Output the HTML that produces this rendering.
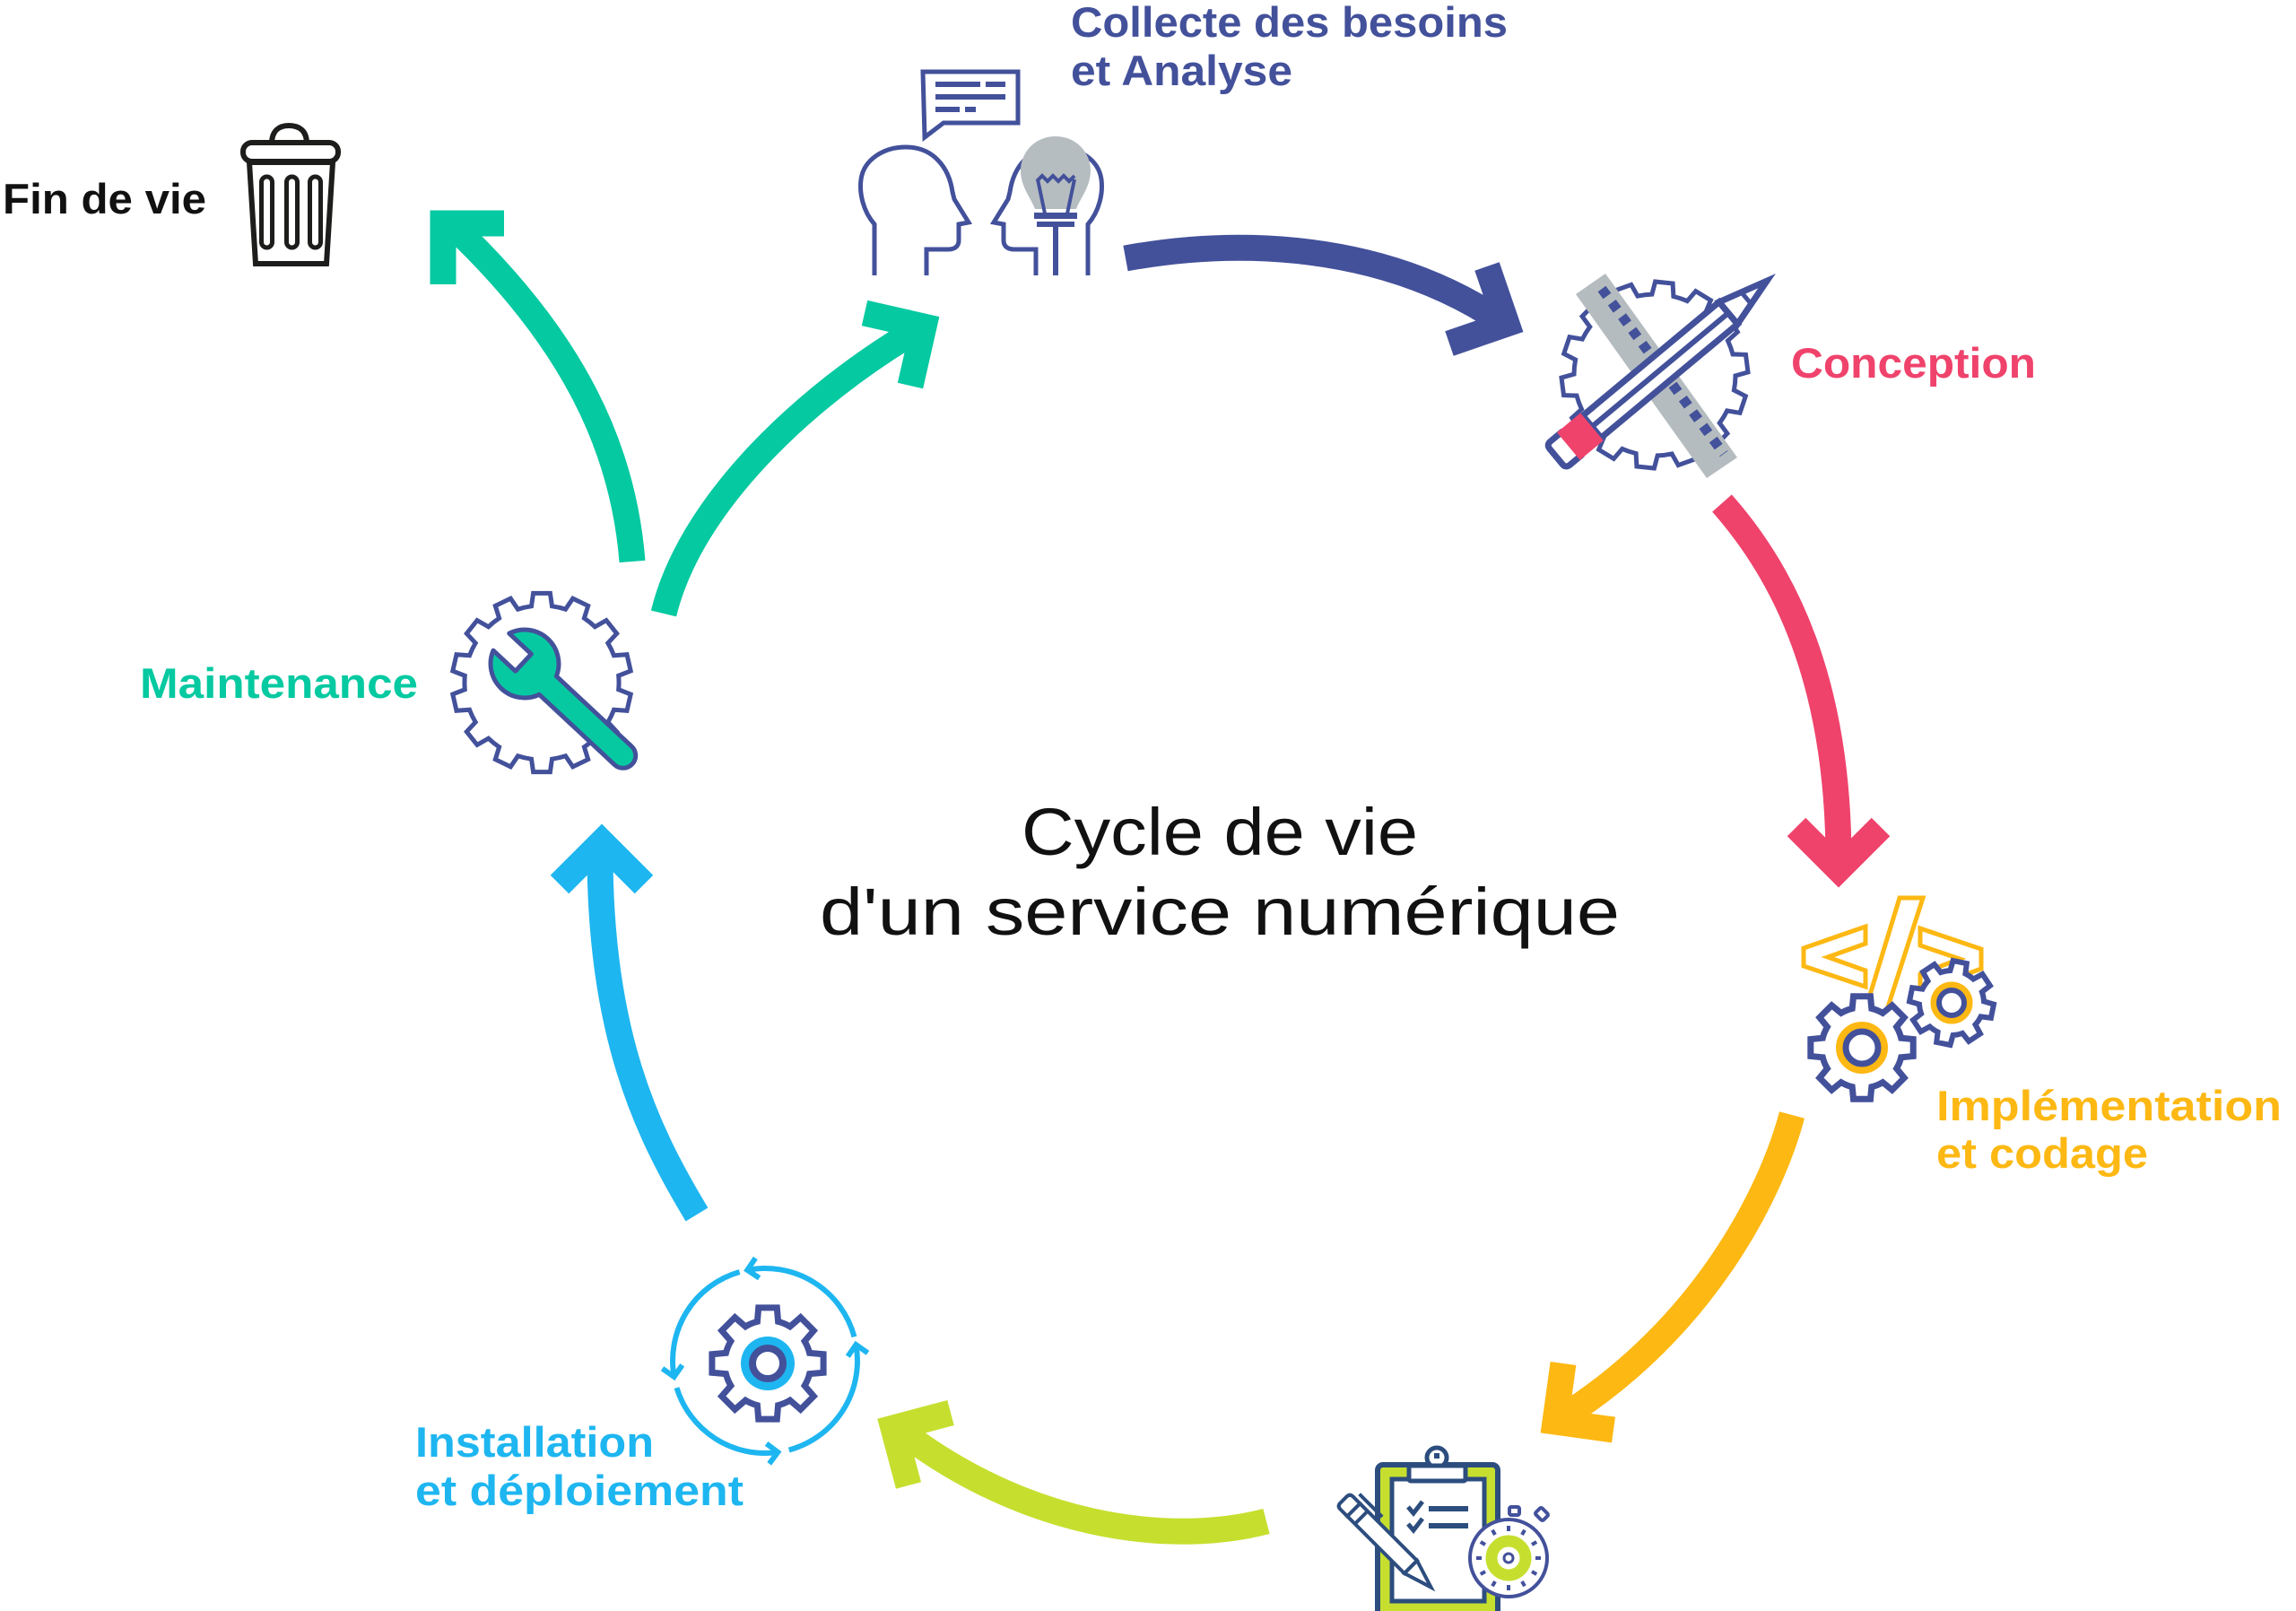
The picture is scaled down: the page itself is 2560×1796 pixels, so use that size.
<!DOCTYPE html>
<html><head><meta charset="utf-8">
<style>
html,body{margin:0;padding:0;background:#fff;}
svg{display:block;}
text{font-family:"Liberation Sans",Arial,sans-serif;}
.b{font-weight:bold;font-size:47px;}
</style></head>
<body>
<svg id="s" width="2560" height="1796" viewBox="0 0 2560 1796" xmlns="http://www.w3.org/2000/svg">
<rect width="2560" height="1796" fill="#fff"/>

<!-- ============ ARROWS ============ -->
<g fill="none" stroke-linejoin="miter" stroke-miterlimit="10" stroke-width="29">
  <path d="M705,626 C695,500 640,380 505,252" stroke="#05c9a1"/>
  <polyline points="562,249 494,249 494,317" stroke="#05c9a1"/>
  <path d="M740,684 C770,560 900,440 1022,368" stroke="#05c9a1"/>
  <polyline points="964,349 1030,364 1015,430" stroke="#05c9a1"/>
  <path d="M1255,288 C1380,265 1540,270 1672,357" stroke="#43519b"/>
  <polyline points="1658,297 1680,361 1616,383" stroke="#43519b"/>
  <path d="M1920,561 C1990,640 2050,760 2050,960" stroke="#ef436c"/>
  <polyline points="2003,922 2050,969 2097,922" stroke="#ef436c"/>
  <path d="M1998,1243 C1975,1330 1900,1480 1742,1580" stroke="#fdb813"/>
  <polyline points="1743,1520 1734,1585 1799,1594" stroke="#fdb813"/>
  <path d="M1412,1696 C1300,1725 1140,1700 1004,1595" stroke="#c6df2f"/>
  <polyline points="1060,1575 996,1592 1013,1656" stroke="#c6df2f"/>
  <path d="M777,1354 C720,1260 668,1150 669,945" stroke="#1eb6f0"/>
  <polyline points="624,986 671,939 718,986" stroke="#1eb6f0"/>
</g>

<!-- ============ FIN DE VIE (trash) ============ -->
<g fill="none" stroke="#1d1d1b" stroke-width="6">
  <path d="M303,160 C303,146 311,140 322,140 C334,140 342,146 342,160"/>
  <rect x="271" y="159" width="106" height="21" rx="10"/>
  <path d="M278,181 L371,181 L364,294 L285,294 Z"/>
  <rect x="291.5" y="197" width="12" height="79" rx="6" stroke-width="5"/>
  <rect x="319.5" y="197" width="12" height="79" rx="6" stroke-width="5"/>
  <rect x="345.5" y="197" width="12" height="79" rx="6" stroke-width="5"/>
</g>
<text class="b" x="3" y="238" fill="#111" textLength="227" lengthAdjust="spacingAndGlyphs">Fin de vie</text>

<!-- ============ COLLECTE ============ -->
<g fill="none" stroke="#43519b" stroke-width="5">
  <path d="M1029,80 L1135,80 L1135,137 L1052,137 L1031,153 Z" fill="#fff" stroke-linejoin="miter"/>
  <g stroke-width="6">
    <line x1="1043" y1="94" x2="1093" y2="94"/><line x1="1099" y1="94" x2="1121" y2="94"/>
    <line x1="1043" y1="108" x2="1121" y2="108"/>
    <line x1="1043" y1="122" x2="1070" y2="122"/><line x1="1076" y1="122" x2="1088" y2="122"/>
  </g>
  <path d="M975,307 L975,250 C962,235 958,215 960,200 C963,178 985,164 1010,164 C1040,164 1058,186 1062,214 L1064,222 L1080,248 L1069,250 L1069,268 C1069,275 1064,278 1057,278 L1033,278 L1033,307"/>
  <path transform="matrix(-1,0,0,1,2188,0)" d="M975,307 L975,250 C962,235 958,215 960,200 C963,178 985,164 1010,164 C1040,164 1058,186 1062,214 L1064,222 L1080,248 L1069,250 L1069,268 C1069,275 1064,278 1057,278 L1033,278 L1033,307"/>
</g>
<path d="M1177,152 C1200,152 1216,170 1216,190 C1216,208 1205,220 1200,233 L1154,233 C1149,220 1138,208 1138,190 C1138,170 1154,152 1177,152 Z" fill="#b6bdc0"/>
<g fill="none" stroke="#43519b" stroke-width="4">
  <polyline points="1156,202 1162,196 1168,202 1174,196 1180,202 1186,196 1192,202 1198,196"/>
  <line x1="1157" y1="200" x2="1165" y2="238"/>
  <line x1="1198" y1="200" x2="1190" y2="238"/>
  <line x1="1177" y1="252" x2="1177" y2="307" stroke-width="6"/>
</g>
<rect x="1153" y="237" width="48" height="7" fill="#43519b"/>
<rect x="1156" y="247" width="42" height="6" fill="#43519b"/>
<text class="b" x="1194" y="41" fill="#43519b" textLength="487" lengthAdjust="spacingAndGlyphs">Collecte des besoins</text>
<text class="b" x="1194" y="95" fill="#43519b" textLength="247" lengthAdjust="spacingAndGlyphs">et Analyse</text>

<!-- ============ CONCEPTION ============ -->
<path id="gC" fill="#fff" stroke="#43519b" stroke-width="5" d=""/>
<polygon points="1757,328 1790,305 1937,510 1903,533" fill="#b5bcbf"/>
<line x1="1786" y1="322" x2="1922" y2="506" stroke="#43519b" stroke-width="11" stroke-dasharray="10 9"/>
<g transform="translate(1735,509) rotate(-39.8)" stroke="#43519b" stroke-width="7" fill="none">
  <path d="M24,-17 L6,-17 Q0,-17 0,-11 L0,11 Q0,17 6,17 L24,17"/>
  <rect x="52" y="-16" width="198" height="32" fill="#fff"/>
  <line x1="52" y1="0" x2="250" y2="0" stroke-width="6"/>
  <path d="M250,-16 L306,0 L250,16 Z" fill="#fff" stroke-linejoin="miter"/>
  <line x1="276" y1="-8" x2="276" y2="8" stroke-width="5"/>
  <rect x="18" y="-20" width="34" height="40" fill="#ef436c" stroke="none"/>
</g>
<text class="b" x="1997" y="421" fill="#ef436c" textLength="273" lengthAdjust="spacingAndGlyphs">Conception</text>

<!-- ============ IMPLEMENTATION ============ -->
<g fill="#fff" stroke="#fdb813" stroke-width="5" stroke-linejoin="miter">
  <polygon points="2080,1033 2080,1052 2038,1067 2080,1082 2080,1100 2011,1077 2011,1057"/>
  <polygon points="2141,1035 2209,1058 2209,1080 2141,1105 2141,1086 2185,1069 2141,1054"/>
  <polygon points="2118,1001 2144,1001 2102,1132 2078,1132"/>
</g>
<path id="gI1" fill="#fff" stroke="#43519b" stroke-width="7" d=""/>
<circle cx="2076" cy="1168" r="25" fill="none" stroke="#fdb813" stroke-width="8"/>
<circle cx="2076" cy="1168" r="18" fill="#fff" stroke="#43519b" stroke-width="7"/>
<path id="gI2" fill="#fff" stroke="#43519b" stroke-width="6" d=""/>
<circle cx="2176" cy="1118" r="20" fill="none" stroke="#fdb813" stroke-width="7"/>
<circle cx="2176" cy="1118" r="14" fill="#fff" stroke="#43519b" stroke-width="6"/>
<text class="b" x="2159" y="1249" fill="#fdb813" textLength="385" lengthAdjust="spacingAndGlyphs">Implémentation</text>
<text class="b" x="2159" y="1302" fill="#fdb813" textLength="236" lengthAdjust="spacingAndGlyphs">et codage</text>

<!-- ============ TESTS (clipboard) ============ -->
<rect x="1536" y="1633" width="134" height="175" rx="6" fill="#c6df2f" stroke="#2c4d7e" stroke-width="6"/>
<rect x="1552" y="1649" width="103" height="136" fill="#fff" stroke="#2c4d7e" stroke-width="5"/>
<circle cx="1602" cy="1625" r="11" fill="#fff" stroke="#2c4d7e" stroke-width="5"/>
<rect x="1571" y="1634" width="63" height="17" rx="2" fill="#fff" stroke="#2c4d7e" stroke-width="5"/>
<rect x="1599" y="1620" width="6" height="6" fill="#2c4d7e"/>
<g fill="none" stroke="#2c4d7e" stroke-width="5">
  <polyline points="1570,1680 1576,1687 1586,1674"/>
  <polyline points="1570,1699 1576,1706 1586,1693"/>
  <line x1="1593" y1="1682" x2="1637" y2="1682" stroke-width="6"/>
  <line x1="1593" y1="1701" x2="1637" y2="1701" stroke-width="6"/>
</g>
<g transform="translate(1498,1672) rotate(45)" stroke="#2c4d7e" stroke-width="4" fill="#fff">
  <path d="M16,-10 L5,-10 Q0,-10 0,-5 L0,5 Q0,10 5,10 L16,10 Z"/>
  <rect x="16" y="-10" width="90" height="20"/>
  <line x1="28" y1="-10" x2="28" y2="10"/>
  <path d="M106,-10 L138,0 L106,10 Z"/>
  <line x1="8" y1="-17" x2="44" y2="-17"/>
</g>
<rect x="1683" y="1680" width="11" height="9" rx="2" fill="#fff" stroke="#43519b" stroke-width="4"/>
<rect x="1713" y="1683" width="12" height="10" rx="2" fill="#fff" stroke="#43519b" stroke-width="4" transform="rotate(45 1719 1688)"/>
<circle cx="1682" cy="1737" r="43" fill="#fff" stroke="#43519b" stroke-width="4"/>
<g id="swt" stroke="#43519b" stroke-width="4"></g>
<circle cx="1682" cy="1737" r="19" fill="none" stroke="#c6df2f" stroke-width="13"/>
<circle cx="1682" cy="1737" r="5" fill="#fff" stroke="#43519b" stroke-width="3"/>

<!-- ============ INSTALLATION ============ -->
<g id="inst" fill="none" stroke="#1eb6f0" stroke-width="6" stroke-linejoin="miter"></g>
<path id="gIn" fill="#fff" stroke="#43519b" stroke-width="7" d=""/>
<circle cx="856" cy="1520" r="30" fill="#1eb6f0"/>
<circle cx="856" cy="1520" r="17" fill="#fff" stroke="#43519b" stroke-width="8"/>
<text class="b" x="463" y="1624" fill="#1eb6f0" textLength="266" lengthAdjust="spacingAndGlyphs">Installation</text>
<text class="b" x="463" y="1678" fill="#1eb6f0" textLength="366" lengthAdjust="spacingAndGlyphs">et déploiement</text>

<!-- ============ MAINTENANCE ============ -->
<path id="gM" fill="#fff" stroke="#43519b" stroke-width="5" d=""/>
<path transform="translate(585,740) rotate(43)" fill="#06c9a2" stroke="#43519b" stroke-width="5" stroke-linejoin="round"
 d="M-35.7,-13 A38,38 0 0 1 35.3,-14 L150,-14 A14,14 0 0 1 150,14 L35.3,14 A38,38 0 0 1 -35.7,13 L-2,13 L-2,-13 Z"/>
<text class="b" x="156" y="778" fill="#05c9a1" textLength="310" lengthAdjust="spacingAndGlyphs">Maintenance</text>

<!-- ============ CENTER TITLE ============ -->
<text x="1360" y="953" font-size="74" fill="#111" text-anchor="middle" textLength="442" lengthAdjust="spacingAndGlyphs">Cycle de vie</text>
<text x="1360" y="1042" font-size="74" fill="#111" text-anchor="middle" textLength="892" lengthAdjust="spacingAndGlyphs">d'un service numérique</text>
</svg>

<script>
(function(){
var NS="http://www.w3.org/2000/svg";
function el(tag,attrs,parent){var e=document.createElementNS(NS,tag);for(var k in attrs)e.setAttribute(k,attrs[k]);parent.appendChild(e);return e;}
function f(v){return v.toFixed(1);}
function gp(cx,cy,ro,ri,n,tw,bw,rot){
  var d="",p=Math.PI/n;
  for(var i=0;i<n;i++){
    var a=rot+i*2*p;
    var pts=[[ri,a-bw*p],[ro,a-tw*p],[ro,a+tw*p],[ri,a+bw*p]];
    for(var j=0;j<4;j++){
      var x=cx+pts[j][0]*Math.cos(pts[j][1]),y=cy+pts[j][0]*Math.sin(pts[j][1]);
      if(i===0&&j===0)d+="M"+f(x)+","+f(y);
      else if(j===0)d+="A"+ri+","+ri+" 0 0 1 "+f(x)+","+f(y);
      else d+="L"+f(x)+","+f(y);
    }
  }
  var a0=rot-bw*p;
  d+="A"+ri+","+ri+" 0 0 1 "+f(cx+ri*Math.cos(a0))+","+f(cy+ri*Math.sin(a0))+"Z";
  return d;
}
function set(id,d){var e=document.getElementById(id);if(e)e.setAttribute("d",d);}
set("gM",gp(604,761,100,86,14,0.42,0.6,-Math.PI/2));
set("gC",gp(1845,418,104,90,14,0.42,0.6,-Math.PI/2+0.1));
set("gI1",gp(2076,1168,58,45,8,0.42,0.62,-Math.PI/2));
set("gI2",gp(2176,1118,47,36,8,0.42,0.62,-Math.PI/2+0.2));
set("gIn",gp(856,1520,63,48,8,0.42,0.62,-Math.PI/2));

var G=document.getElementById("inst");
var cx=853,cy=1517,R=103,r=Math.PI/180,c=Math.SQRT1_2;
[[-15,-101],[-106,-190],[-197,-278],[-285,-370]].forEach(function(ab){
  var a=ab[0]*r,b=ab[1]*r;
  var sx=cx+R*Math.cos(a),sy=cy+R*Math.sin(a),ex=cx+R*Math.cos(b),ey=cy+R*Math.sin(b);
  el("path",{d:"M"+f(sx)+","+f(sy)+" A"+R+","+R+" 0 0 0 "+f(ex)+","+f(ey)},G);
  var tx=Math.sin(b),ty=-Math.cos(b),bx=-tx,by=-ty,L=16;
  var a1=[(bx-by)*c,(bx+by)*c],a2=[(bx+by)*c,(-bx+by)*c];
  el("polyline",{points:f(ex+L*a1[0])+","+f(ey+L*a1[1])+" "+f(ex)+","+f(ey)+" "+f(ex+L*a2[0])+","+f(ey+L*a2[1])},G);
});

var T=document.getElementById("swt");
for(var i=0;i<12;i++){var an=i*Math.PI/6;
  el("line",{x1:f(1682+30*Math.cos(an)),y1:f(1737+30*Math.sin(an)),x2:f(1682+36*Math.cos(an)),y2:f(1737+36*Math.sin(an))},T);}
})();
</script>
</body></html>
